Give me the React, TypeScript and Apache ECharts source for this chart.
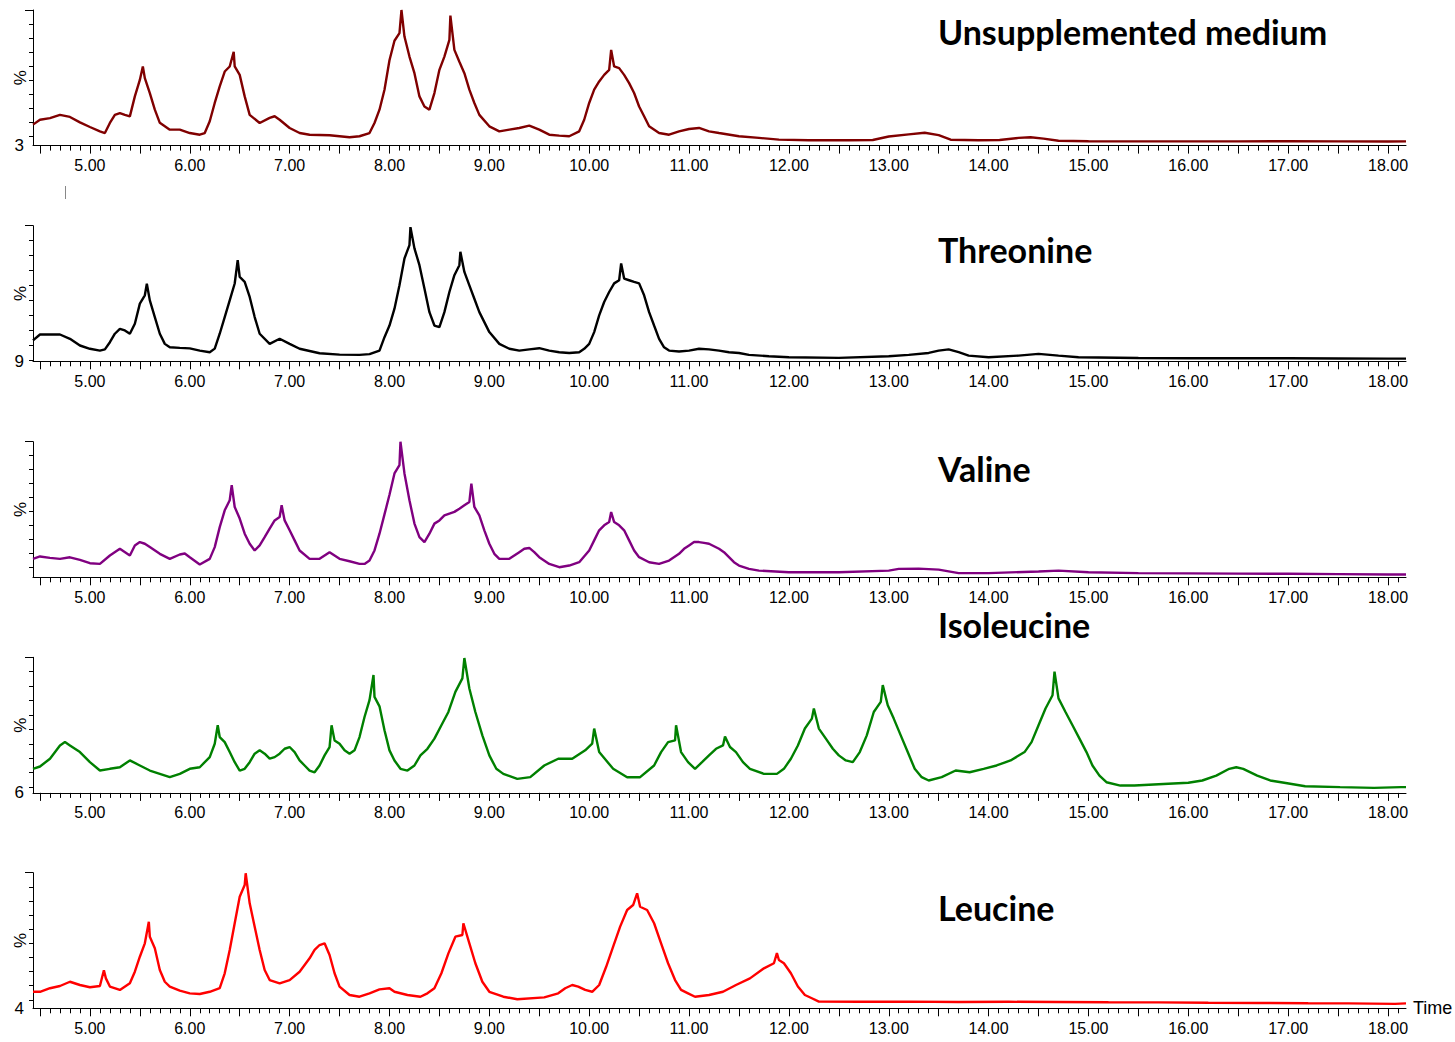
import React, { useEffect, useRef } from "react";
import * as echarts from "echarts";

// ---------- data (retention time in min, intensity in %) ----------
const unsupplemented: [number, number][] = [
  [4.43, 18], [4.5, 21.5], [4.6, 22.7], [4.7, 25], [4.8, 23.5], [4.9, 19.6], [5.0, 16.3], [5.1, 13.2], [5.15, 12],
  [5.2, 19.2], [5.25, 25], [5.3, 26.3], [5.35, 25], [5.4, 23.9], [5.45, 38.2], [5.5, 50], [5.53, 59.6], [5.55, 51.3],
  [5.6, 40.6], [5.65, 28.7], [5.7, 19.3], [5.8, 14.4], [5.9, 14.4], [6.0, 12], [6.1, 10.8], [6.15, 12], [6.2, 20.4],
  [6.25, 33.5], [6.3, 45.3], [6.35, 56], [6.4, 59.6], [6.44, 70], [6.45, 59.6], [6.5, 53.6], [6.55, 38.2], [6.6, 25],
  [6.7, 19.2], [6.8, 22.8], [6.85, 24], [6.9, 21.5], [7.0, 15.6], [7.1, 12], [7.2, 10.8], [7.4, 10.4], [7.6, 9],
  [7.7, 9.7], [7.8, 12], [7.85, 19.2], [7.9, 28.7], [7.95, 43], [8.0, 64], [8.05, 78], [8.1, 83.4], [8.12, 100],
  [8.15, 81], [8.2, 66.7], [8.25, 54.8], [8.3, 38.2], [8.35, 31], [8.4, 28.7], [8.45, 40.6], [8.5, 57.2], [8.55, 66.7],
  [8.6, 78.6], [8.61, 96], [8.65, 71.5], [8.7, 63], [8.75, 54.8], [8.8, 43], [8.85, 33.5], [8.9, 25], [9.0, 16.8],
  [9.1, 13.2], [9.2, 14.4], [9.3, 15.6], [9.4, 17.3], [9.5, 14.4], [9.6, 10.8], [9.7, 10.1], [9.8, 9.7], [9.9, 13.2],
  [9.95, 21.5], [10.0, 33.5], [10.05, 43], [10.1, 48.9], [10.15, 53.6], [10.2, 57.2], [10.22, 71.5], [10.25, 59.6],
  [10.3, 58.4], [10.35, 53.6], [10.4, 47.7], [10.45, 40.6], [10.5, 31], [10.55, 24], [10.6, 16.8], [10.7, 12],
  [10.8, 10.8], [10.9, 13.2], [11.0, 14.9], [11.1, 15.6], [11.2, 13.2], [11.3, 12], [11.5, 9.7], [11.7, 8.5],
  [11.9, 7.3], [12.2, 6.8], [12.6, 6.8], [12.84, 7], [13.0, 9.5], [13.2, 11], [13.36, 12.2], [13.5, 10.5],
  [13.62, 7.2], [13.9, 6.8], [14.11, 7], [14.3, 8.5], [14.42, 9], [14.55, 8], [14.7, 6.5], [15.0, 6.1], [15.5, 6],
  [16.0, 6], [16.5, 6], [17.0, 6.1], [17.5, 6], [18.0, 5.9], [18.18, 6],
];

const threonine: [number, number][] = [
  [4.43, 23], [4.5, 27], [4.6, 27], [4.7, 27], [4.8, 24.1], [4.9, 19.6], [5.0, 17.4], [5.1, 16.2], [5.15, 17],
  [5.2, 21.8], [5.25, 27.5], [5.3, 30.8], [5.35, 29.7], [5.4, 27.5], [5.45, 34.2], [5.5, 47.7], [5.55, 53.3],
  [5.57, 61], [5.6, 49.9], [5.65, 38.7], [5.7, 27.5], [5.75, 20.7], [5.8, 18.4], [5.9, 18], [6.0, 17.7], [6.1, 16.2],
  [6.2, 15.1], [6.25, 17.5], [6.3, 27.5], [6.35, 38.7], [6.4, 49.9], [6.45, 61.2], [6.48, 76.9], [6.5, 65.6],
  [6.55, 62.3], [6.6, 52.2], [6.65, 38.7], [6.7, 27.5], [6.8, 20.7], [6.9, 24.1], [7.0, 20.7], [7.1, 17.4],
  [7.3, 14.4], [7.5, 13.5], [7.7, 13.3], [7.8, 13.8], [7.9, 16.2], [7.95, 25.2], [8.0, 33], [8.05, 44.3], [8.1, 60],
  [8.15, 78], [8.2, 87], [8.21, 99], [8.25, 84.8], [8.3, 73.5], [8.35, 57.8], [8.4, 42], [8.45, 33], [8.5, 31.9],
  [8.55, 42], [8.6, 55.5], [8.65, 66.8], [8.7, 73.5], [8.71, 82.5], [8.75, 69], [8.8, 60], [8.85, 51], [8.9, 42],
  [8.95, 35.3], [9.0, 28.6], [9.1, 20.7], [9.2, 17.4], [9.3, 16.2], [9.4, 17], [9.5, 17.8], [9.6, 16.2], [9.7, 15.1],
  [9.8, 14.6], [9.9, 15.1], [9.95, 17.4], [10.0, 20.7], [10.05, 28.6], [10.1, 39.8], [10.15, 48.8], [10.2, 55.5],
  [10.25, 61.3], [10.3, 63.4], [10.32, 74.7], [10.35, 64.5], [10.4, 63.4], [10.45, 62.3], [10.5, 61.3], [10.55, 53.3],
  [10.6, 42], [10.65, 33], [10.7, 24.1], [10.75, 18.4], [10.8, 16.2], [10.9, 15.6], [11.0, 16.2], [11.1, 17.4],
  [11.2, 17], [11.3, 16.2], [11.4, 15.1], [11.5, 14.6], [11.6, 13.3], [11.8, 12.4], [12.0, 11.7], [12.5, 11.3],
  [13.0, 12.4], [13.2, 13.3], [13.4, 14.6], [13.5, 16.2], [13.6, 17], [13.7, 15.1], [13.8, 12.8], [14.0, 11.7],
  [14.3, 12.8], [14.5, 14], [14.7, 12.8], [14.9, 11.7], [15.5, 11.2], [16.0, 11], [16.5, 11], [17.0, 11],
  [17.5, 10.9], [18.0, 10.8], [18.18, 10.8],
];

const valine: [number, number][] = [
  [4.43, 16.2], [4.5, 17.9], [4.6, 16.9], [4.7, 16.2], [4.8, 17.3], [4.9, 15.5], [5.0, 13.1], [5.1, 12.6], [5.2, 18.6],
  [5.3, 23.4], [5.4, 18.6], [5.45, 25.8], [5.5, 28.2], [5.55, 27], [5.6, 24.6], [5.7, 19.8], [5.8, 16.2], [5.9, 19.3],
  [5.95, 20], [6.0, 17.3], [6.1, 12.1], [6.2, 16.2], [6.25, 24.6], [6.3, 38.9], [6.35, 50.9], [6.4, 58.1],
  [6.42, 68.9], [6.45, 53.3], [6.5, 45], [6.55, 34.2], [6.6, 27], [6.65, 22.2], [6.7, 25.8], [6.75, 31.7], [6.8, 37.8],
  [6.85, 43.7], [6.9, 46.1], [6.92, 54.5], [6.95, 43.7], [7.0, 36.6], [7.05, 29.4], [7.1, 22.2], [7.2, 16.2],
  [7.3, 16.2], [7.4, 21], [7.5, 16.2], [7.6, 14.5], [7.7, 12.6], [7.75, 12.6], [7.8, 15], [7.85, 22.2], [7.9, 34.2],
  [7.95, 48], [8.0, 62], [8.05, 77.3], [8.1, 83.3], [8.11, 100], [8.15, 77.3], [8.2, 58.1], [8.25, 41.4], [8.3, 31.7],
  [8.35, 28.2], [8.4, 34.2], [8.45, 41.4], [8.5, 43.7], [8.55, 47.3], [8.6, 48.6], [8.65, 49.8], [8.7, 52.1],
  [8.75, 54.5], [8.8, 56.9], [8.82, 70], [8.85, 53.3], [8.9, 47.3], [8.95, 36.6], [9.0, 27], [9.05, 19.8], [9.1, 16.2],
  [9.2, 16.2], [9.3, 21], [9.35, 23.4], [9.4, 24], [9.45, 21], [9.5, 17.4], [9.6, 12.6], [9.7, 10.2], [9.8, 11.4],
  [9.9, 13.8], [10.0, 22.2], [10.05, 29.4], [10.1, 36.6], [10.15, 40.2], [10.2, 42.5], [10.22, 49.7], [10.25, 42.5],
  [10.3, 40.2], [10.35, 36.6], [10.4, 29.4], [10.45, 22.2], [10.5, 17.4], [10.6, 13.8], [10.7, 12.6], [10.8, 15],
  [10.9, 19.8], [10.95, 23.4], [11.0, 25.8], [11.05, 28.2], [11.1, 28.2], [11.15, 27.6], [11.2, 27], [11.3, 23.4],
  [11.35, 21], [11.4, 17.4], [11.45, 13.8], [11.5, 11.4], [11.6, 9], [11.7, 7.8], [12.0, 6.6], [12.5, 6.6],
  [13.0, 7.8], [13.1, 9], [13.3, 9.2], [13.5, 8.5], [13.7, 6], [14.0, 6], [14.5, 7.2], [14.7, 7.8], [15.0, 6.6],
  [15.5, 6], [16.0, 5.8], [16.5, 5.6], [17.0, 5.5], [17.5, 5.3], [18.0, 5], [18.18, 5],
];

const isoleucine: [number, number][] = [
  [4.43, 22.7], [4.5, 24.3], [4.6, 29.7], [4.7, 38.9], [4.75, 41.2], [4.8, 38.9], [4.9, 34.3], [5.0, 27.3],
  [5.1, 21.5], [5.2, 22.7], [5.3, 23.8], [5.4, 28.5], [5.5, 25], [5.6, 21.5], [5.7, 19.2], [5.8, 16.9], [5.9, 19.2],
  [6.0, 22.7], [6.1, 23.8], [6.2, 30.8], [6.25, 40.1], [6.28, 52.9], [6.3, 44.7], [6.35, 41.2], [6.4, 34.3],
  [6.45, 27.3], [6.5, 21.5], [6.55, 22.7], [6.6, 27.3], [6.65, 33.2], [6.7, 35.5], [6.75, 33.2], [6.8, 29.7],
  [6.85, 30.8], [6.9, 33.2], [6.95, 36.6], [7.0, 37.8], [7.05, 34.3], [7.1, 28.5], [7.15, 25], [7.2, 21.5],
  [7.25, 20.3], [7.3, 25], [7.35, 32], [7.4, 37.8], [7.42, 52.9], [7.45, 42.4], [7.5, 40.1], [7.55, 35.5],
  [7.6, 33.2], [7.65, 35.5], [7.7, 44.7], [7.75, 58.6], [7.8, 70.3], [7.84, 87.7], [7.85, 72.6], [7.9, 66],
  [7.95, 49.4], [8.0, 35.5], [8.05, 28.5], [8.11, 22.7], [8.18, 21.5], [8.25, 25], [8.31, 32], [8.38, 36.6],
  [8.45, 43.6], [8.52, 52.9], [8.59, 62.1], [8.66, 76], [8.73, 85.4], [8.75, 99.5], [8.8, 78.4], [8.86, 62.1],
  [8.93, 45.9], [9.0, 32], [9.07, 22.7], [9.14, 19.2], [9.28, 15.7], [9.41, 16.9], [9.55, 25], [9.69, 29.7],
  [9.83, 29.7], [9.96, 35.5], [10.03, 40.1], [10.05, 50.6], [10.1, 34.3], [10.24, 22.7], [10.38, 16.9],
  [10.51, 16.9], [10.65, 25], [10.72, 34.3], [10.79, 41.2], [10.86, 42.4], [10.87, 52.9], [10.92, 34.3],
  [10.99, 27.3], [11.06, 22.7], [11.13, 27.3], [11.2, 32], [11.27, 36.6], [11.34, 38.9], [11.36, 45], [11.41, 37.8],
  [11.47, 34.3], [11.54, 27.3], [11.61, 22.7], [11.75, 19.2], [11.88, 19.2], [11.95, 22.7], [12.02, 29.7],
  [12.09, 38.9], [12.16, 50.6], [12.23, 57.5], [12.25, 64.5], [12.3, 50.6], [12.37, 43.6], [12.44, 36.6],
  [12.5, 32], [12.57, 28.5], [12.64, 27.3], [12.71, 34.3], [12.78, 45.9], [12.85, 62.1], [12.92, 69.1],
  [12.94, 80.7], [12.99, 66.8], [13.05, 57.5], [13.12, 45.9], [13.19, 34.3], [13.26, 22.7], [13.33, 16.9],
  [13.4, 14.6], [13.53, 16.9], [13.67, 21.5], [13.81, 20.3], [13.95, 22.7], [14.08, 25], [14.22, 28.5],
  [14.36, 34.3], [14.43, 41.2], [14.5, 52.9], [14.57, 64.5], [14.64, 73.7], [14.66, 90], [14.7, 71.5],
  [14.77, 62.1], [14.84, 52.9], [14.91, 43.6], [14.98, 34.3], [15.04, 25], [15.11, 18], [15.18, 13.4],
  [15.32, 11.1], [15.46, 11.1], [15.8, 12.3], [16.0, 13], [16.14, 14.6], [16.28, 18], [16.41, 22.7], [16.48, 23.8],
  [16.55, 22.7], [16.69, 18], [16.82, 14.6], [16.96, 13], [17.17, 10.6], [17.52, 10], [17.86, 9.5], [18.13, 10],
  [18.18, 10],
];

const leucine: [number, number][] = [
  [4.43, 15.7], [4.5, 15.7], [4.6, 18.2], [4.7, 19.8], [4.8, 22.8], [4.9, 20.5], [5.0, 18.9], [5.1, 19.8],
  [5.14, 30.9], [5.16, 25.2], [5.2, 19.4], [5.3, 17], [5.4, 21.7], [5.45, 29.9], [5.5, 40.5], [5.55, 50],
  [5.59, 65.3], [5.6, 54.7], [5.65, 46.5], [5.7, 31.1], [5.75, 22.8], [5.8, 19.4], [5.9, 16.5], [6.0, 14.6],
  [6.1, 14.1], [6.2, 15.7], [6.3, 18.2], [6.35, 28.8], [6.4, 45.3], [6.45, 64.2], [6.5, 83], [6.55, 91.3],
  [6.56, 99.6], [6.6, 78.3], [6.65, 61.8], [6.7, 45.3], [6.75, 31.1], [6.8, 24], [6.9, 21.7], [7.0, 24], [7.1, 29.9],
  [7.2, 39.4], [7.25, 45.3], [7.3, 48.8], [7.35, 50], [7.4, 41.7], [7.45, 28.8], [7.5, 19.4], [7.6, 13.4],
  [7.7, 12.2], [7.8, 14.6], [7.9, 17.4], [8.0, 18.2], [8.05, 15.7], [8.18, 13.4], [8.31, 12.2], [8.38, 14.6],
  [8.45, 18.2], [8.52, 28.8], [8.59, 42.9], [8.66, 54.7], [8.73, 55.9], [8.74, 64.2], [8.8, 50], [8.86, 35.9],
  [8.93, 22.8], [9.0, 15.7], [9.14, 12.2], [9.28, 10.4], [9.55, 11.7], [9.69, 14.6], [9.76, 18.2], [9.83, 20.5],
  [9.89, 19.4], [9.96, 17], [10.03, 15.7], [10.1, 20.5], [10.17, 33.4], [10.24, 47.6], [10.31, 61.8], [10.38, 73.6],
  [10.44, 77.1], [10.48, 85.4], [10.51, 75.9], [10.58, 73.6], [10.65, 64.2], [10.72, 50], [10.79, 35.9],
  [10.86, 24], [10.92, 17], [10.99, 14.6], [11.06, 12.2], [11.2, 13.4], [11.34, 15.7], [11.47, 20.5], [11.61, 25.2],
  [11.75, 32.3], [11.85, 35.9], [11.88, 43], [11.9, 38.2], [11.95, 35.9], [12.02, 28.8], [12.09, 19.4],
  [12.16, 13.4], [12.23, 11.1], [12.3, 8.7], [12.7, 8.6], [13.2, 8.7], [13.7, 8.5], [14.2, 8.6], [14.7, 8.5],
  [15.2, 8.3], [15.7, 8.2], [16.2, 7.9], [16.7, 7.8], [17.2, 7.6], [17.6, 7.5], [18.07, 7.1], [18.18, 7.5],
];

const panelNames = ["Unsupplemented medium", "Threonine", "Valine", "Isoleucine", "Leucine"];
const panelData = [unsupplemented, threonine, valine, isoleucine, leucine];
const panelColors = ["#800000", "#000000", "#800080", "#008000", "#ff0000"];
const yMins = [3, 9, 3, 6, 4];
const yMinLabels = ["3", "9", "", "6", "4"];
const yAxisName = "%";
const xMin = 4.43;
const xMax = 18.18;
const xLabelValues = [5, 6, 7, 8, 9, 10, 11, 12, 13, 14, 15, 16, 17, 18];

// layout
const gridTops = [10, 225.7, 441.7, 657.3, 872.7];
const gridHeight = 135.6;
const titleYs = [34, 252, 471, 627, 910];

function range(a: number, b: number, step: number) {
  const out: number[] = [];
  for (let v = a; v <= b + 1e-9; v += step) out.push(Math.round(v * 100) / 100);
  return out;
}

const majorXTicks = range(4.5, 18, 0.5);
const minorXTicks = range(4.5, 18.1, 0.1);
const yTicks = range(10, 100, 10);

export default function App() {
  const ref = useRef<HTMLDivElement>(null);
  useEffect(() => {
    if (!ref.current) return;
    const chart = echarts.init(ref.current, undefined, { renderer: "svg" });
    const fontNum = "'Liberation Sans', Arial, sans-serif";
    const grid: any[] = [];
    const xAxis: any[] = [];
    const yAxis: any[] = [];
    const series: any[] = [];
    const graphic: any[] = [];
    panelData.forEach((d, i) => {
      grid.push({
        left: 33, right: 49, top: gridTops[i], height: gridHeight,
        containLabel: false, outerBoundsMode: "none",
      });
      xAxis.push({
        type: "value", gridIndex: i, min: xMin, max: xMax, position: "bottom",
        axisLine: { show: true, onZero: false, lineStyle: { color: "#000", width: 1 } },
        axisTick: { show: true, length: 8, customValues: majorXTicks, lineStyle: { color: "#000", width: 1 } },
        axisLabel: {
          show: true, customValues: xLabelValues, formatter: (v: number) => v.toFixed(2),
          fontSize: 16, color: "#000", fontFamily: fontNum, margin: 12,
        },
        splitLine: { show: false },
      });
      xAxis.push({
        type: "value", gridIndex: i, min: xMin, max: xMax, position: "bottom",
        axisLine: { show: false, onZero: false },
        axisTick: { show: true, length: 5, customValues: minorXTicks, lineStyle: { color: "#000", width: 1 } },
        axisLabel: { show: false },
        splitLine: { show: false },
      });
      yAxis.push({
        type: "value", gridIndex: i, min: yMins[i], max: 100, position: "left",
        axisLine: { show: true, onZero: false, lineStyle: { color: "#000", width: 1 } },
        axisTick: { show: true, length: 4, customValues: yTicks, lineStyle: { color: "#000", width: 1 } },
        axisLabel: {
          show: yMinLabels[i] !== "", customValues: [yMins[i]], formatter: () => yMinLabels[i],
          fontSize: 17, color: "#000", fontFamily: fontNum, margin: 9,
        },
        splitLine: { show: false },
      });
      yAxis.push({
        type: "value", gridIndex: i, min: yMins[i], max: 100, position: "left",
        axisLine: { show: false, onZero: false },
        axisTick: { show: true, length: 8, customValues: [100], lineStyle: { color: "#000", width: 1 } },
        axisLabel: { show: false },
        splitLine: { show: false },
      });
      series.push({
        type: "line", xAxisIndex: 2 * i, yAxisIndex: 2 * i, data: d, showSymbol: false,
        symbol: "none", lineStyle: { color: panelColors[i], width: 2.4 }, clip: true,
      });
      // rotated "%" axis name
      graphic.push({
        type: "text", x: 20, y: gridTops[i] + gridHeight / 2, rotation: Math.PI / 2,
        style: { text: yAxisName, fontSize: 17, fontFamily: fontNum, fill: "#000", align: "center", verticalAlign: "middle" },
      });
      graphic.push({
        type: "text", left: 938, top: titleYs[i] - 20,
        style: { text: panelNames[i], fontSize: 34, fontWeight: "bold", fontFamily: "Lato, 'Open Sans', sans-serif", fill: "#000" },
      });
    });
    graphic.push({
      type: "text", left: 1413, top: 999,
      style: { text: "Time", fontSize: 18, fontFamily: fontNum, fill: "#000" },
    });
    graphic.push({
      type: "line", shape: { x1: 65.5, y1: 186, x2: 65.5, y2: 199 },
      style: { stroke: "#888", lineWidth: 1 },
    });
    chart.setOption({
      animation: false,
      backgroundColor: "#fff",
      grid, xAxis, yAxis, series, graphic,
    });
    return () => chart.dispose();
  }, []);
  return (
    <div
      ref={ref}
      style={{ position: "fixed", left: 0, top: 0, width: 1455, height: 1042, background: "#fff" }}
    />
  );
}
